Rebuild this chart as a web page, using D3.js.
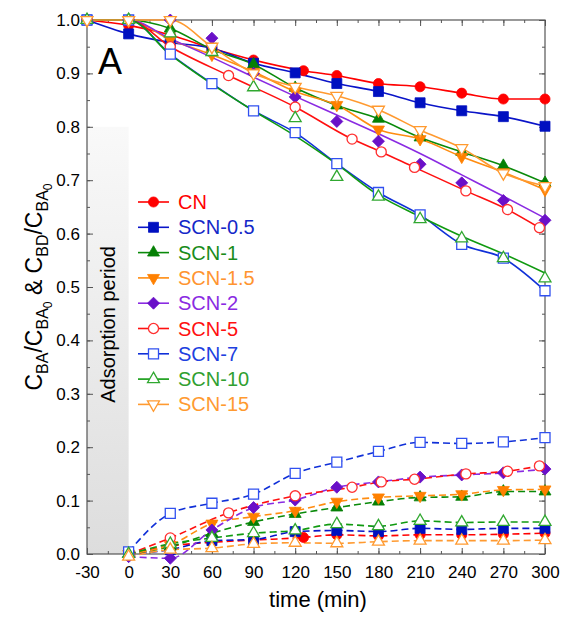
<!DOCTYPE html>
<html>
<head>
<meta charset="utf-8">
<script src="https://cdn.jsdelivr.net/npm/d3@7"></script>
<style>
  body { margin: 0; background: #fff; }
  svg text { font-family: "Liberation Sans", Arial, sans-serif; }
</style>
</head>
<body>
<div id="chart"></div>
<script>
// sampling times (min)
const tUp = [-30, 0, 30, 60, 90, 120, 150, 180, 210, 240, 270, 300];
const tUpCN = [-30, 0, 30, 60, 90, 126, 150, 180, 210, 240, 270, 300];
const tUp5 = [-30, 0, 30, 72, 120, 161, 182, 206, 243, 273, 296];
const tLow = [0, 30, 60, 90, 120, 150, 180, 210, 240, 270, 300];
const tLowCN = [0, 30, 60, 90, 126, 150, 180, 210, 240, 270, 300];
const tLow5 = [0, 30, 72, 120, 161, 182, 206, 243, 273, 296];

// C_BA / C_BA0
const upCN  = [1, 0.99, 0.972, 0.947, 0.925, 0.905, 0.896, 0.881, 0.875, 0.863, 0.852, 0.852];
const up05  = [1, 0.974, 0.958, 0.947, 0.919, 0.901, 0.881, 0.866, 0.845, 0.83, 0.819, 0.801];
const up1   = [1, 1, 0.984, 0.945, 0.917, 0.873, 0.84, 0.815, 0.78, 0.753, 0.727, 0.695];
const up1_5 = [1, 1, 0.963, 0.935, 0.903, 0.866, 0.841, 0.795, 0.777, 0.744, 0.715, 0.682];
const up2   = [1, 1, 1, 0.966, 0.9, 0.856, 0.81, 0.773, 0.73, 0.695, 0.662, 0.625];
const up5   = [1, 1, 0.95, 0.896, 0.837, 0.777, 0.753, 0.724, 0.68, 0.645, 0.611];
const up7   = [1, 1, 0.936, 0.881, 0.83, 0.789, 0.731, 0.677, 0.635, 0.58, 0.554, 0.493];
const up10  = [1, 1, 0.975, 0.94, 0.874, 0.816, 0.706, 0.669, 0.627, 0.591, 0.554, 0.516];
const up15  = [1, 1, 1, 0.95, 0.9, 0.875, 0.858, 0.832, 0.794, 0.76, 0.713, 0.689];
// fitted lines drawn apart from their markers (on tLow)
const fit2  = [1, 0.965, 0.93, 0.893, 0.857, 0.822, 0.787, 0.75, 0.71, 0.67, 0.629];
const fit10 = [1, 0.935, 0.88, 0.83, 0.783, 0.73, 0.672, 0.632, 0.595, 0.562, 0.526];

// C_BD / C_BA0
const lowCN  = [0, 0.015, 0.022, 0.026, 0.031, 0.036, 0.034, 0.036, 0.036, 0.037, 0.039];
const low05  = [0, 0.008, 0.025, 0.027, 0.042, 0.044, 0.042, 0.048, 0.046, 0.048, 0.048];
const low1   = [0, 0.014, 0.039, 0.06, 0.075, 0.087, 0.098, 0.106, 0.107, 0.117, 0.117];
const low1_5 = [0, 0.017, 0.057, 0.07, 0.081, 0.098, 0.106, 0.109, 0.112, 0.12, 0.121];
const low2   = [-0.005, -0.008, 0.045, 0.087, 0.101, 0.125, 0.135, 0.144, 0.148, 0.152, 0.159];
const low5   = [0, 0.03, 0.077, 0.109, 0.125, 0.135, 0.14, 0.15, 0.155, 0.165];
const low7   = [0.004, 0.076, 0.095, 0.112, 0.151, 0.172, 0.192, 0.209, 0.207, 0.21, 0.218];
const low10  = [0, 0.019, 0.03, 0.039, 0.044, 0.056, 0.052, 0.062, 0.059, 0.06, 0.06];
const low15  = [-0.005, 0.008, 0.011, 0.019, 0.021, 0.02, 0.023, 0.025, 0.025, 0.025, 0.026];

const names = ["CN", "SCN-0.5", "SCN-1", "SCN-1.5", "SCN-2", "SCN-5", "SCN-7", "SCN-10", "SCN-15"];
const xTicks = [-30, 0, 30, 60, 90, 120, 150, 180, 210, 240, 270, 300];
const yTicks = [0, 0.1, 0.2, 0.3, 0.4, 0.5, 0.6, 0.7, 0.8, 0.9, 1.0];

const zip = (t, v) => t.map((d, i) => [d, v[i]]);

const series = [
  { name: names[0], line: "#ff0000", mark: "#ff0000", text: "#ff0000", shape: "circle", open: false,
    up: zip(tUpCN, upCN), low: zip(tLowCN, lowCN) },
  { name: names[1], line: "#0a14c8", mark: "#0010c0", text: "#1428c8", shape: "square", open: false,
    up: zip(tUp, up05), low: zip(tLow, low05) },
  { name: names[2], line: "#0a8a0a", mark: "#058005", text: "#1a8c1a", shape: "triUp", open: false,
    up: zip(tUp, up1), low: zip(tLow, low1) },
  { name: names[3], line: "#ff8c10", mark: "#ff8000", text: "#ff9430", shape: "triDown", open: false,
    up: zip(tUp, up1_5), low: zip(tLow, low1_5) },
  { name: names[4], line: "#8a2be2", mark: "#6a10c8", text: "#8a2be2", shape: "diamond", open: false,
    up: zip(tUp, up2), upLine: zip(tLow, fit2), low: zip(tLow, low2) },
  { name: names[5], line: "#ff1010", mark: "#ff3030", text: "#ff1010", shape: "circle", open: true,
    up: zip(tUp5, up5), low: zip(tLow5, low5) },
  { name: names[6], line: "#1030d8", mark: "#3050f0", text: "#2040e0", shape: "square", open: true,
    up: zip(tUp, up7), low: zip(tLow, low7) },
  { name: names[7], line: "#109a10", mark: "#30a830", text: "#30a030", shape: "triUp", open: true,
    up: zip(tUp, up10), upLine: zip(tLow, fit10), low: zip(tLow, low10) },
  { name: names[8], line: "#ff9a30", mark: "#ff9a30", text: "#ff9a30", shape: "triDown", open: true,
    lowShape: "triUp", up: zip(tUp, up15), low: zip(tLow, low15) }
];

const width = 561, height = 619;
const margin = { top: 20, right: 16, bottom: 65, left: 87 };

const svg = d3.select("#chart").append("svg")
  .attr("width", width).attr("height", height);

const xScale = d3.scaleLinear().domain([-30, 300]).range([margin.left, width - margin.right]);
const yScale = d3.scaleLinear().domain([0, 1]).range([height - margin.bottom, margin.top]);

// adsorption period shading
const grad = svg.append("defs").append("linearGradient")
  .attr("id", "shade").attr("x1", 0).attr("y1", 0).attr("x2", 0).attr("y2", 1);
grad.append("stop").attr("offset", "0%").attr("stop-color", "#f9f9f9");
grad.append("stop").attr("offset", "100%").attr("stop-color", "#dddddd");

svg.append("rect")
  .attr("x", xScale(-30)).attr("y", yScale(0.8))
  .attr("width", xScale(0) - xScale(-30)).attr("height", yScale(0) - yScale(0.8))
  .attr("fill", "url(#shade)");

svg.append("text")
  .attr("transform", `translate(${xScale(-15) + 7},${yScale(0.43)}) rotate(-90)`)
  .attr("text-anchor", "middle")
  .attr("font-size", 20)
  .attr("fill", "#000")
  .text("Adsorption period");

// axes: inward ticks on all four sides
const axisG = svg.append("g");
const bottom = height - margin.bottom, right = width - margin.right;

axisG.append("g").attr("transform", `translate(0,${bottom})`)
  .call(d3.axisBottom(xScale).tickValues(d3.range(-30, 301, 15)).tickSize(-3).tickFormat(""));
axisG.append("g").attr("transform", `translate(0,${bottom})`)
  .call(d3.axisBottom(xScale).tickValues(xTicks).tickSize(-6).tickPadding(12).tickFormat(d => String(d)));
axisG.append("g").attr("transform", `translate(0,${margin.top})`)
  .call(d3.axisTop(xScale).tickValues(d3.range(-30, 301, 15)).tickSize(-3).tickFormat(""));
axisG.append("g").attr("transform", `translate(0,${margin.top})`)
  .call(d3.axisTop(xScale).tickValues(xTicks).tickSize(-6).tickFormat(""));

axisG.append("g").attr("transform", `translate(${margin.left},0)`)
  .call(d3.axisLeft(yScale).tickValues(d3.range(0, 1.001, 0.05)).tickSize(-3).tickFormat(""));
axisG.append("g").attr("transform", `translate(${margin.left},0)`)
  .call(d3.axisLeft(yScale).tickValues(yTicks).tickSize(-6).tickPadding(7).tickFormat(d3.format(".1f")));
axisG.append("g").attr("transform", `translate(${right},0)`)
  .call(d3.axisRight(yScale).tickValues(d3.range(0, 1.001, 0.05)).tickSize(-3).tickFormat(""));
axisG.append("g").attr("transform", `translate(${right},0)`)
  .call(d3.axisRight(yScale).tickValues(yTicks).tickSize(-6).tickFormat(""));

axisG.selectAll(".domain").remove();
axisG.selectAll(".tick line").attr("stroke", "#555");
axisG.selectAll(".tick text")
  .attr("fill", "#000")
  .attr("font-size", 17)
  .attr("font-family", "Liberation Sans, Arial, sans-serif");

svg.append("rect")
  .attr("x", margin.left).attr("y", margin.top)
  .attr("width", right - margin.left).attr("height", bottom - margin.top)
  .attr("fill", "none").attr("stroke", "#555").attr("stroke-width", 1.2);

// axis titles
svg.append("text")
  .attr("x", (margin.left + right) / 2 + 2).attr("y", 607)
  .attr("text-anchor", "middle").attr("font-size", 22)
  .text("time (min)");

const yTitle = svg.append("text")
  .attr("transform", `translate(42,${yScale(0.5)}) rotate(-90)`)
  .attr("text-anchor", "middle").attr("font-size", 23);
[["C", 0, 23], ["BA", 6, 16], ["/C", -6, 23], ["BA", 6, 16], ["0", 4, 12],
 [" & C", -10, 23], ["BD", 6, 16], ["/C", -6, 23], ["BA", 6, 16], ["0", 4, 12]]
  .forEach(([s, dy, fs]) => yTitle.append("tspan").attr("dy", dy).attr("font-size", fs).text(s));

svg.append("text")
  .attr("x", 98).attr("y", 74)
  .attr("font-size", 36)
  .text("A");

// markers
const symbolFor = shape => {
  if (shape === "circle") return d3.symbol(d3.symbolCircle, 80)();
  if (shape === "square" || shape === "diamond") return d3.symbol(d3.symbolSquare, shape === "square" ? 100 : 72)();
  return d3.symbol(d3.symbolTriangle, 62)();
};
const rot = shape => shape === "triDown" ? " rotate(180)" : shape === "diamond" ? " rotate(45)" : "";

const lineUp = d3.line().x(d => xScale(d[0])).y(d => yScale(d[1])).curve(d3.curveMonotoneX);
const lineLow = d3.line().x(d => xScale(d[0])).y(d => yScale(d[1])).curve(d3.curveMonotoneX);

const plot = svg.append("g");

series.forEach(s => {
  plot.append("path")
    .datum(s.low)
    .attr("d", lineLow)
    .attr("fill", "none").attr("stroke", s.line).attr("stroke-width", 1.6)
    .attr("stroke-dasharray", "7,4");
});

series.forEach(s => {
  plot.append("path")
    .datum(s.upLine ? [[-30, 1]].concat(s.upLine) : s.up)
    .attr("d", lineUp)
    .attr("fill", "none").attr("stroke", s.line).attr("stroke-width", 1.6);
});

series.forEach(s => {
  const drawMarks = (pts, shape) => {
    plot.append("g").selectAll("path")
      .data(pts)
      .enter()
      .append("path")
      .attr("d", symbolFor(shape))
      .attr("transform", d => `translate(${xScale(d[0])},${yScale(d[1])})${rot(shape)}`)
      .attr("fill", s.open ? "#fff" : s.mark)
      .attr("stroke", s.mark)
      .attr("stroke-width", s.open ? 1.3 : 0.8);
  };
  drawMarks(s.up, s.shape);
  drawMarks(s.low, s.lowShape || s.shape);
});

// legend
const legend = svg.append("g");
series.forEach((s, i) => {
  const ly = 202 + i * 25.3;
  legend.append("line")
    .attr("x1", 138).attr("x2", 169).attr("y1", ly).attr("y2", ly)
    .attr("stroke", s.line).attr("stroke-width", 1.6);
  legend.append("path")
    .attr("d", symbolFor(s.shape))
    .attr("transform", `translate(153.5,${ly})${rot(s.shape)}`)
    .attr("fill", s.open ? "#fff" : s.mark)
    .attr("stroke", s.mark)
    .attr("stroke-width", s.open ? 1.3 : 0.8);
  legend.append("text")
    .attr("x", 178).attr("y", ly + 7)
    .attr("font-size", 20)
    .attr("fill", s.text)
    .text(s.name);
});
</script>
</body>
</html>
